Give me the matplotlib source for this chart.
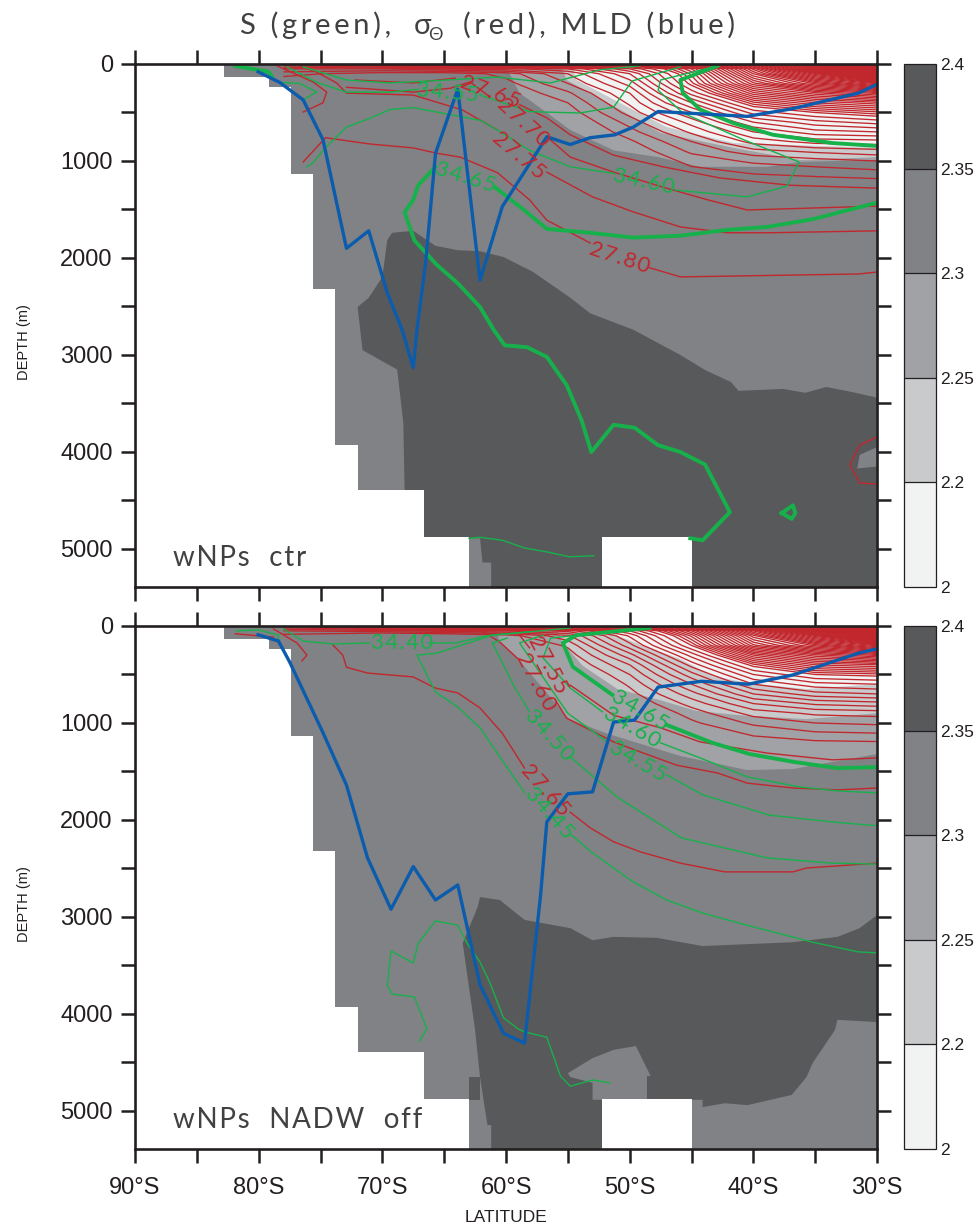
import matplotlib
matplotlib.use("Agg")
import matplotlib.pyplot as plt
from matplotlib.cm import ScalarMappable
from matplotlib.colors import BoundaryNorm, ListedColormap

plt.rcParams['font.family'] = ['Liberation Sans', 'DejaVu Sans']

RED = '#c1272d'
GREEN = '#17b14c'
BLUE = '#0b5cad'
INK = '#231f20'
SOFT = '#414042'
LIGHT_FONT = ['Lato', 'DejaVu Sans']
SHADES = ['#f1f2f2', '#c8cacc', '#a0a2a5', '#808285', '#58595b']
cbar_bounds = [2, 2.2, 2.25, 2.3, 2.35, 2.4]
cbar_labels = ['2', '2.2', '2.25', '2.3', '2.35', '2.4']

lat_ticks = [-90, -85, -80, -75, -70, -65, -60, -55, -50, -45, -40, -35, -30]
lat_labels = ['90°S', '', '80°S', '', '70°S', '', '60°S', '', '50°S', '', '40°S', '', '30°S']
depth_ticks = [0, 500, 1000, 1500, 2000, 2500, 3000, 3500, 4000, 4500, 5000]
depth_labels = ['0', '', '1000', '', '2000', '', '3000', '', '4000', '', '5000']
depth_max = 5392

# ocean floor, model steps (same for both runs)
floor_lat = [-82.8, -79.2, -77.4, -75.6, -73.8, -72, -66.6, -63, -52.2, -45, -30]
floor_depth = [130, 240, 1130, 2320, 3930, 4390, 4880, 5400, 4880, 5400, 5400]

# grid for the density fan
field_lat = [-78, -70, -65, -60, -55, -50, -45, -40, -35, -30]
field_depth = [0, 50, 100, 200, 300, 400, 500, 600, 700, 800, 900, 1000, 1200, 1400]
sigma_top = [
    [27.35, 27.20, 26.80, 26.70, 26.80, 26.90, 26.70, 26.30, 25.80, 24.90],
    [27.50, 27.50, 27.45, 27.42, 27.35, 27.15, 26.88, 26.45, 26.00, 25.50],
    [27.58, 27.63, 27.64, 27.58, 27.45, 27.25, 26.93, 26.52, 26.20, 25.85],
    [27.65, 27.68, 27.68, 27.62, 27.50, 27.33, 26.98, 26.65, 26.45, 26.30],
    [27.70, 27.72, 27.70, 27.65, 27.56, 27.40, 27.08, 26.80, 26.68, 26.60],
    [27.72, 27.74, 27.72, 27.68, 27.60, 27.44, 27.20, 26.95, 26.85, 26.80],
    [27.75, 27.76, 27.74, 27.70, 27.63, 27.48, 27.30, 27.08, 27.00, 26.95],
    [27.77, 27.78, 27.75, 27.72, 27.66, 27.53, 27.38, 27.20, 27.12, 27.08],
    [27.78, 27.79, 27.76, 27.73, 27.68, 27.57, 27.44, 27.30, 27.22, 27.20],
    [27.79, 27.80, 27.77, 27.74, 27.70, 27.61, 27.50, 27.38, 27.33, 27.32],
    [27.80, 27.80, 27.78, 27.75, 27.72, 27.64, 27.54, 27.47, 27.44, 27.42],
    [27.80, 27.80, 27.79, 27.76, 27.74, 27.67, 27.58, 27.54, 27.52, 27.50],
    [27.80, 27.80, 27.80, 27.78, 27.76, 27.70, 27.65, 27.63, 27.62, 27.61],
    [27.82, 27.82, 27.82, 27.80, 27.78, 27.74, 27.70, 27.69, 27.69, 27.69],
]
sigma_bot = [
    [27.30, 27.10, 26.70, 26.60, 26.70, 26.80, 26.55, 26.10, 25.60, 24.80],
    [27.45, 27.42, 27.38, 27.35, 27.28, 27.05, 26.72, 26.30, 25.90, 25.40],
    [27.52, 27.60, 27.58, 27.53, 27.41, 27.14, 26.80, 26.40, 26.10, 25.75],
    [27.60, 27.64, 27.62, 27.58, 27.49, 27.22, 26.90, 26.52, 26.35, 26.20],
    [27.64, 27.65, 27.64, 27.60, 27.53, 27.32, 27.03, 26.72, 26.58, 26.50],
    [27.65, 27.66, 27.65, 27.62, 27.56, 27.40, 27.13, 26.88, 26.75, 26.72],
    [27.66, 27.66, 27.65, 27.63, 27.60, 27.45, 27.22, 27.00, 26.90, 26.88],
    [27.66, 27.66, 27.66, 27.64, 27.62, 27.49, 27.30, 27.10, 27.02, 27.00],
    [27.67, 27.67, 27.66, 27.65, 27.63, 27.52, 27.37, 27.20, 27.12, 27.10],
    [27.67, 27.67, 27.67, 27.65, 27.64, 27.55, 27.43, 27.30, 27.24, 27.22],
    [27.68, 27.68, 27.67, 27.66, 27.65, 27.57, 27.48, 27.38, 27.34, 27.33],
    [27.68, 27.68, 27.68, 27.66, 27.65, 27.58, 27.51, 27.44, 27.40, 27.39],
    [27.69, 27.69, 27.69, 27.67, 27.66, 27.60, 27.56, 27.53, 27.51, 27.505],
    [27.70, 27.70, 27.70, 27.68, 27.67, 27.63, 27.60, 27.58, 27.57, 27.56],
]
# contour interval tightens in the upper fan
levels_top = [round(24.9 + 0.03 * i, 2) for i in range(70)] + [round(27.0 + 0.05 * i, 2) for i in range(13)]
levels_bot = [round(24.8 + 0.03 * i, 2) for i in range(70)] + [round(26.9 + 0.05 * i, 2) for i in range(13)]

# shaded regions (lat, depth)
top_a0 = ([-60.1, -58.9, -57.8, -54.8, -51.3, -47.7, -44.3, -38.9, -36.2, -30, -30],
          [0, 300, 400, 680, 890, 960, 1060, 1060, 1010, 990, 0])
top_c8 = ([-55.6, -55.1, -51, -47.5, -41.6, -36.2, -30, -30],
          [0, 165, 455, 710, 865, 990, 960, 0])
top_f1 = ([-54.7, -54.3, -50.8, -47, -41.6, -30, -30],
          [0, 165, 400, 650, 815, 865, 0])
top_dark = ([-72, -71.1, -70, -69.6, -69.2, -67.5, -65.7, -63.9, -62.1, -60.2, -57.8, -54.8, -53.2,
             -49.7, -45.9, -43.9, -41.8, -41.2, -37.6, -35.8, -34.1, -32.1, -30,
             -30, -61.2, -61.2, -61.9, -62.1, -66.6, -68.2, -68.3, -68.8, -71.6],
            [2505, 2410, 2195, 1815, 1740, 1720, 1875, 1920, 1930, 1990, 2145, 2410, 2570,
             2740, 3000, 3155, 3280, 3370, 3350, 3390, 3330, 3380, 3440,
             5400, 5400, 5140, 5140, 4890, 4890, 4390, 3700, 3150, 2950])
top_patch = ([-30, -31.4, -31.6, -30], [3950, 4030, 4170, 4150])
bot_a0 = ([-60.9, -60.5, -59.1, -54.9, -51.8, -45.9, -40.5, -36.8, -30, -30],
          [0, 165, 330, 960, 1110, 1340, 1485, 1475, 1320, 0])
bot_c8 = ([-56, -55.4, -53.8, -51, -47.8, -44.6, -41.1, -35.7, -30, -30],
          [0, 175, 410, 650, 755, 875, 920, 960, 900, 0])
bot_f1 = ([-52.4, -51, -48.4, -45.9, -43.3, -40.3, -35.7, -30, -30],
          [0, 100, 225, 340, 515, 590, 650, 600, 0])
bot_dark = ([-63.5, -62.3, -62.1, -60.5, -58.5, -54.8, -53, -51.3, -47.8, -44.1, -36.8, -33.2, -31.4, -30,
             -30, -33.2, -33.4, -35.2, -35.7, -36.9, -40.5, -42.3, -44.1, -44.1, -48.6, -48.6, -48.3,
             -49.5, -51.3, -53, -55, -54.8, -53, -53, -52.2, -52.2, -61.2, -61.2, -61.5, -62.1, -62.5],
            [3270, 2900, 2795, 2825, 3030, 3115, 3240, 3205, 3215, 3300, 3260, 3205, 3115, 2980,
             4083, 4060, 4165, 4505, 4650, 4835, 4940, 4920, 4960, 4885, 4885, 4640, 4640,
             4330, 4370, 4455, 4610, 4650, 4710, 4885, 4885, 5400, 5400, 5145, 5145, 4650, 4165])
bot_step = ([-63, -62.1, -62.1, -63], [4650, 4650, 4885, 4885])

# mixed layer depth
mld_top_lat = [-80.05, -78.3, -76.4, -74.8, -72.9, -71.1, -69.6, -68.4, -67.5, -67.2, -66.5, -65.7, -63.9,
               -62.1, -60.3, -56.7, -54.8, -53.2, -51.2, -49.7, -47.7, -40.5, -36.8, -31.5, -30]
mld_top = [80, 190, 370, 780, 1900, 1720, 2360, 2740, 3130, 2740, 2050, 920, 260,
           2230, 1470, 750, 830, 760, 730, 650, 490, 540, 460, 300, 210]
mld_bot_lat = [-80.05, -78.4, -77.5, -74.8, -72.9, -71.2, -69.3, -67.5, -65.7, -63.9, -62.1, -60.2, -58.5,
               -57.2, -56.7, -55, -53, -51.3, -49.6, -47.7, -44.2, -40.4, -36.8, -31.5, -30]
mld_bot = [90, 155, 370, 1100, 1640, 2390, 2920, 2480, 2825, 2670, 3700, 4200, 4300,
           2770, 2020, 1730, 1710, 990, 970, 630, 570, 600, 505, 280, 235]

# salinity contours, top run: (lat, depth)
top_thick = [
    ([-81.9, -79.2, -78.9], [20, 80, 135]),
    ([-65.7, -67.1, -67.5, -68.2, -67.4, -65.6, -63.9, -62.1, -61, -60.1, -58.3, -56.7, -55.1, -53.9, -53.1,
      -51.3, -49.6, -47.7, -45.9, -43.9, -41.9, -44.1, -45.1],
     [1060, 1250, 1400, 1530, 1820, 2070, 2260, 2505, 2740, 2900, 2920, 3020, 3310, 3670, 4000,
      3720, 3750, 3930, 4000, 4130, 4620, 4910, 4890]),
    ([-60.9, -58.6, -56.7, -53.2, -49.7, -45.9, -42.1, -38.9, -35.2, -30],
     [1270, 1500, 1700, 1740, 1790, 1770, 1710, 1680, 1600, 1430]),
    ([-42.9, -45.9, -45.7, -44.3, -41.6, -38.4, -33.6, -30], [20, 165, 300, 470, 610, 730, 815, 845]),
    ([-37.7, -36.8, -36.6, -36.9, -37.7], [4630, 4550, 4630, 4690, 4630]),
]
top_thin = [
    ([-76.1, -75.6, -74.8, -72.9, -71, -69.4, -67.5, -62.1, -60.7, -58.1, -54.8, -51.2],
     [1060, 1020, 890, 650, 560, 470, 450, 580, 680, 890, 1060, 1130]),
    ([-46.3, -40.5, -37.3, -36.3, -40.8, -45.7, -47.7, -47.5, -42.9],
     [1300, 1370, 1260, 1010, 780, 505, 270, 165, 20]),
    ([-77.7, -75.3, -72.9, -69.4, -67.1], [30, 190, 290, 290, 260]),
    ([-62.1, -58.1, -57, -54, -51.3, -49.8, -45.9], [320, 490, 495, 505, 445, 175, 30]),
    ([-78.3, -76.7, -75.3, -76.4], [190, 200, 290, 370]),
    ([-76.4, -72.9, -69.4, -66.1, -60.7, -56.4, -52.4, -49.2], [30, 165, 195, 175, 135, 195, 60, 20]),
    ([-63, -62.1, -60.3, -58.5, -56.7, -54.9, -52.9], [4890, 4880, 4910, 4990, 5030, 5080, 5070]),
]
# density contours, top run
top_red = [
    ([-76.4, -74.6, -71, -67.5, -65.6, -63.7, -60.7, -58.1, -56.7, -53.2],
     [1010, 760, 825, 865, 920, 960, 1120, 1400, 1610, 1845]),
    ([-48.4, -45.9, -31.5, -30], [2100, 2195, 2165, 2145]),
    ([-76.4, -74.8, -74.5, -75.6, -78.5], [495, 400, 290, 185, 20]),
    ([-76.6, -75.3, -73.7, -72.9, -67.5, -63.5, -60.7], [20, 85, 195, 300, 320, 475, 680]),
    ([-56.7, -53, -49.7, -45.9, -42.1, -38.7, -30], [1115, 1370, 1525, 1680, 1740, 1740, 1720]),
    ([-72.9, -67.5, -64.5, -62.9, -61.3], [240, 290, 250, 185, 340]),
    ([-56.7, -54.8, -51.3, -47.3, -43.7, -40.5, -30], [750, 960, 1115, 1270, 1400, 1505, 1465]),
    ([-72.2, -67.5, -64.1], [165, 195, 145]),
    ([-58.9, -56.7, -54.8, -51.3, -47.3, -42.7, -37, -30], [420, 555, 730, 940, 1060, 1175, 1250, 1280]),
    ([-30, -31.4, -32.2, -31.4, -30], [3845, 3930, 4135, 4320, 4330]),
]
# salinity contours, bottom run
bot_thick = [
    ([-48.4, -54.3, -55.4, -54.6, -51.4], [20, 95, 175, 420, 710]),
    ([-47, -43.3, -40.3, -36.8, -33.2, -30], [1020, 1205, 1320, 1400, 1465, 1455]),
]
bot_thin = [
    ([-81.8, -80, -78.4, -78.4], [50, 40, 95, 145]),
    ([-52.2, -54.8, -57, -56.4, -54.3], [885, 640, 330, 125, 95]),
    ([-47.5, -44.3, -40.5, -36.2, -33.2, -30], [1205, 1360, 1555, 1660, 1700, 1720]),
    ([-51.8, -55, -58.9, -57], [1195, 900, 175, 95]),
    ([-47, -44.1, -38.7, -33.6, -30], [1535, 1740, 1950, 2020, 2060]),
    ([-58.1, -59.4, -61.1, -59.9], [885, 610, 175, 125]),
    ([-54.8, -51, -45.8, -38.9, -33.6, -30], [1350, 1765, 2185, 2390, 2445, 2455]),
    ([-58.5, -62.1, -63.9, -65.7, -67.2, -65.6, -61.1, -58.1, -54.8],
     [1720, 1050, 835, 680, 300, 280, 95, 60, 20]),
    ([-54.7, -53, -49.7, -47, -44.1, -40.5, -35.2, -31.5, -30],
     [2155, 2340, 2640, 2825, 2960, 3085, 3260, 3360, 3370]),
    ([-78, -76.4, -74, -71], [30, 155, 185, 175]),
    ([-66.3, -64.1, -61.3, -58.1], [175, 175, 95, 60]),
    ([-67, -66.4, -67.4, -69.2, -69.6, -69.3, -67.5, -67.1, -65.7, -63.9, -63.2, -62.1, -61.3, -60.2, -59, -58.5,
      -56.7, -55.6, -54.8, -53, -51.6],
     [4280, 4155, 3825, 3795, 3710, 3350, 3475, 3270, 3040, 3085, 3260, 3465, 3680, 4040, 4155, 4185,
      4240, 4640, 4745, 4680, 4710]),
]
bot_red = [
    ([-74, -73.2, -72.9, -71.2, -67.5, -65.7, -63.9, -62.1, -60.3, -58.5],
     [195, 300, 425, 485, 525, 640, 690, 845, 1105, 1465]),
    ([-54.8, -53.2, -51.3, -49.1, -45.9, -42.3, -36.8, -35.7, -30],
     [1920, 2080, 2225, 2330, 2445, 2535, 2535, 2495, 2445]),
    ([-30, -33.2, -36.8, -40.5, -42.9, -46.2, -49.1, -51.3, -55.1, -56],
     [1670, 1690, 1670, 1620, 1515, 1435, 1300, 1195, 950, 765]),
    ([-59.1, -60.5, -62.1], [330, 165, 40]),
    ([-30, -33.6, -38.9, -44.3, -47.5, -51.3, -54.8], [1360, 1380, 1310, 1195, 1050, 920, 610]),
    ([-58.1, -58.9], [225, 95]),
    ([-78.8, -76.9, -76.1, -76.5], [30, 175, 300, 360]),
    ([-81.9, -78.8], [80, 115]),
]

# contour labels: text, lat, depth, angle, colour
top_notes = [
    ('27.80', -50.8, 2000, -18, RED), ('34.60', -48.9, 1215, -12, GREEN), ('34.65', -63.3, 1165, -17, GREEN),
    ('34.55', -64.7, 300, -5, GREEN), ('27.65', -61.3, 290, -20, RED), ('27.70', -58.6, 605, -42, RED),
    ('27.75', -59, 940, -40, RED),
]
bot_notes = [
    ('27.55', -56.6, 400, -62, RED), ('27.60', -57.6, 575, -62, RED), ('34.65', -49.2, 865, -30, GREEN),
    ('34.60', -49.8, 1050, -30, GREEN), ('34.55', -49.3, 1400, -30, GREEN), ('34.50', -56.5, 1120, -48, GREEN),
    ('27.65', -56.8, 1690, -48, RED), ('34.45', -56.5, 1930, -48, GREEN), ('34.40', -68.4, 175, 0, GREEN),
]


def spaced(s, gap='\u200a'):
    # the plot font is set wide, small spaces get close to it
    return gap.join(s)


def panel_axes(y0, y1):
    return fig.add_axes([135 / 980, 1 - y1 / 1228, 742 / 980, (y1 - y0) / 1228])


def draw_panel(ax, fills, dark, extras, sigma, levels, red, thick, thin, mld_lat, mld, notes, name):
    ax.fill_between(floor_lat, 0, floor_depth, step='post', color=SHADES[3], lw=0, zorder=1)
    for (lat, depth), col in zip(fills, SHADES[2::-1]):
        ax.fill(lat, depth, color=col, lw=0, zorder=1.2)
    ax.fill(dark[0], dark[1], color=SHADES[4], lw=0, zorder=1.5)
    for (lat, depth), col in extras:
        ax.fill(lat, depth, color=col, lw=0, zorder=1.6)
    ax.fill_between(floor_lat, floor_depth, 5400, step='post', color='white', lw=0, zorder=2)
    ax.fill_between([-90, -82.8], 0, 5400, color='white', lw=0, zorder=2)

    ax.contour(field_lat, field_depth, sigma, levels=levels, colors=RED, linewidths=0.95, zorder=3)
    for lat, depth in red:
        ax.plot(lat, depth, color=RED, lw=1.0, zorder=3)
    for lat, depth in thin:
        ax.plot(lat, depth, color=GREEN, lw=1.0, zorder=4)
    for lat, depth in thick:
        ax.plot(lat, depth, color=GREEN, lw=2.8, zorder=4)
    ax.plot(mld_lat, mld, color=BLUE, lw=2.4, zorder=5)
    for label, lat, depth, angle, col in notes:
        ax.text(lat, depth, spaced(label), color=col, fontsize=16, family=LIGHT_FONT,
                rotation=angle, rotation_mode='anchor', ha='center', va='center', zorder=6)

    ax.text(-86.9, 5090, spaced(name), fontsize=20, color=SOFT, family=LIGHT_FONT, va='center', zorder=6)
    ax.set_xlim(-90, -30)
    ax.set_ylim(depth_max, 0)
    ax.set_xticks(lat_ticks)
    ax.set_yticks(depth_ticks)
    ax.set_yticklabels(depth_labels, fontsize=17)
    ax.tick_params(axis='both', direction='out', length=10, width=1.8, color=INK, top=True, right=True,
                   labelcolor=INK)
    ax.tick_params(axis='y', pad=6)
    ax.tick_params(axis='x', pad=10)
    ax.set_axisbelow(False)
    for side in ax.spines.values():
        side.set_linewidth(1.9)
        side.set_color(INK)
        side.set_zorder(10)


def draw_cbar(y0, y1):
    cax = fig.add_axes([904 / 980, 1 - y1 / 1228, 32 / 980, (y1 - y0) / 1228])
    sm = ScalarMappable(norm=BoundaryNorm(cbar_bounds, len(SHADES)), cmap=ListedColormap(SHADES))
    cb = fig.colorbar(sm, cax=cax, spacing='uniform', drawedges=True)
    cb.set_ticks(cbar_bounds)
    cb.set_ticklabels(cbar_labels)
    cb.ax.tick_params(length=0, labelsize=12.5, pad=3, labelcolor=INK)
    cb.outline.set_linewidth(0.9)
    cb.outline.set_edgecolor(INK)
    cb.dividers.set_linewidth(0.9)
    cb.dividers.set_color(INK)


fig = plt.figure(figsize=(9.8, 12.28), dpi=100)

ax1 = panel_axes(64, 587)
draw_panel(ax1, [top_a0, top_c8, top_f1], top_dark, [(top_patch, SHADES[3])], sigma_top, levels_top,
           top_red, top_thick, top_thin, mld_top_lat, mld_top, top_notes, 'wNPs  ctr')
ax1.set_xticklabels([])

ax2 = panel_axes(626, 1149)
draw_panel(ax2, [bot_a0, bot_c8, bot_f1], bot_dark, [(bot_step, SHADES[4])], sigma_bot, levels_bot,
           bot_red, bot_thick, bot_thin, mld_bot_lat, mld_bot, bot_notes, 'wNPs  NADW  off')
ax2.set_xticklabels(lat_labels, fontsize=17)

draw_cbar(64, 587)
draw_cbar(626, 1149)

fig.text(24 / 980, 1 - 342 / 1228, 'DEPTH (m)', fontsize=10.5, rotation=90, color=INK, ha='center', va='center')
fig.text(24 / 980, 1 - 904 / 1228, 'DEPTH (m)', fontsize=10.5, rotation=90, color=INK, ha='center', va='center')
fig.text(506 / 980, 1 - 1217 / 1228, 'LATITUDE', fontsize=12.5, color=INK, ha='center', va='center')

# title in pieces, sigma needs its small theta below the line
title_style = dict(fontsize=21, color=SOFT, family=LIGHT_FONT, va='baseline')
fig.text(240 / 980, 1 - 34 / 1228, spaced('S (green),', '\u2009'), **title_style)
fig.text(414 / 980, 1 - 34 / 1228, 'σ', **title_style)
fig.text(428 / 980, 1 - 40 / 1228, 'Θ', fontsize=13, color=SOFT, family=LIGHT_FONT, va='baseline')
fig.text(463 / 980, 1 - 34 / 1228, spaced('(red), MLD (blue)', '\u2009'), **title_style)

fig.savefig('out.png', dpi=100)
